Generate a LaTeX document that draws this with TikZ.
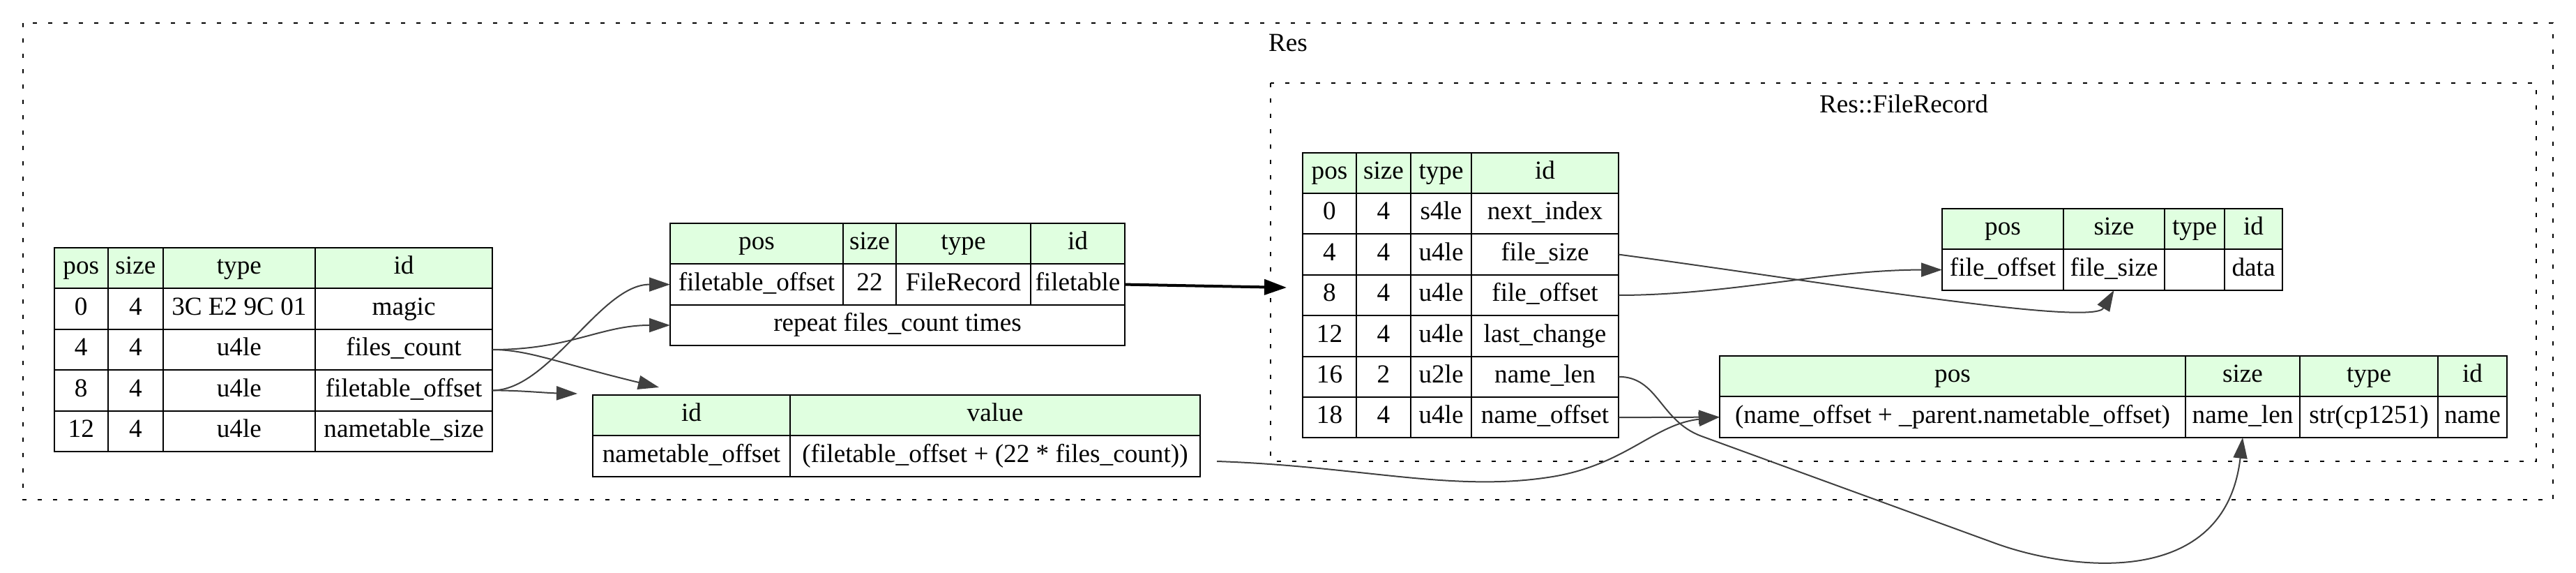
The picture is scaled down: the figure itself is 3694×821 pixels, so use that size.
\documentclass[tikz,border=0pt]{standalone}
\usepackage{fontspec}
\setmainfont{Liberation Serif}
\usepackage{tikz}
\usetikzlibrary{positioning}
\usetikzlibrary{arrows.meta}

\definecolor{hdrgreen}{HTML}{E0FFE0}
\definecolor{edgegray}{HTML}{404040}

\tikzset{
    cellbox/.style={rectangle, draw=black, line width=0.5pt, minimum height=14.6pt, inner sep=0pt, outer sep=0pt, text height=6.4pt, text depth=2pt, font=\fontsize{9.3pt}{11pt}\selectfont},
    headbox/.style={cellbox, fill=hdrgreen},
    cluster/.style={draw=black, line width=0.5pt, dash pattern=on 1.5pt off 4pt},
    link/.style={draw=edgegray, line width=0.5pt, -{Triangle[length=7.5pt, width=5pt]}},
    biglink/.style={draw=black, line width=1pt, -{Triangle[length=8pt, width=5.5pt]}},
}

\begin{document}
\begin{tikzpicture}[x=0.25pt, y=-0.25pt]
    \useasboundingbox (0,0) rectangle (3694,821);

    % clusters
    \draw [cluster] (33,33) rectangle (3661,716);
    \draw [cluster] (1822,119.5) rectangle (3637,661);
    \node [font=\fontsize{9.3pt}{11pt}\selectfont] (res-label) at (1847,62) {Res};
    \node [font=\fontsize{9.3pt}{11pt}\selectfont] (rec-label) at (2730,149) {Res::FileRecord};

    % Res seq
    \node [headbox, minimum width=19.4pt, anchor=north west] (res-pos) at (77.5,355) {pos};
    \node [headbox, minimum width=19.65pt, right=0pt of res-pos] (res-size) {size};
    \node [headbox, minimum width=54.6pt, right=0pt of res-size] (res-type) {type};
    \node [headbox, minimum width=63.5pt, right=0pt of res-type] (res-id) {id};
    \node [cellbox, minimum width=19.4pt, below=0pt of res-pos] (magic-pos) {0};
    \node [cellbox, minimum width=19.65pt, right=0pt of magic-pos] (magic-size) {4};
    \node [cellbox, minimum width=54.6pt, right=0pt of magic-size] (magic-type) {3C E2 9C 01};
    \node [cellbox, minimum width=63.5pt, right=0pt of magic-type] (magic-id) {magic};
    \node [cellbox, minimum width=19.4pt, below=0pt of magic-pos] (fcount-pos) {4};
    \node [cellbox, minimum width=19.65pt, right=0pt of fcount-pos] (fcount-size) {4};
    \node [cellbox, minimum width=54.6pt, right=0pt of fcount-size] (fcount-type) {u4le};
    \node [cellbox, minimum width=63.5pt, right=0pt of fcount-type] (fcount-id) {files\_count};
    \node [cellbox, minimum width=19.4pt, below=0pt of fcount-pos] (ftoff-pos) {8};
    \node [cellbox, minimum width=19.65pt, right=0pt of ftoff-pos] (ftoff-size) {4};
    \node [cellbox, minimum width=54.6pt, right=0pt of ftoff-size] (ftoff-type) {u4le};
    \node [cellbox, minimum width=63.5pt, right=0pt of ftoff-type] (ftoff-id) {filetable\_offset};
    \node [cellbox, minimum width=19.4pt, below=0pt of ftoff-pos] (ntsize-pos) {12};
    \node [cellbox, minimum width=19.65pt, right=0pt of ntsize-pos] (ntsize-size) {4};
    \node [cellbox, minimum width=54.6pt, right=0pt of ntsize-size] (ntsize-type) {u4le};
    \node [cellbox, minimum width=63.5pt, right=0pt of ntsize-type] (ntsize-id) {nametable\_size};

    % filetable
    \node [headbox, minimum width=62pt, anchor=north west] (fth-pos) at (961,320) {pos};
    \node [headbox, minimum width=19pt, right=0pt of fth-pos] (fth-size) {size};
    \node [headbox, minimum width=48.25pt, right=0pt of fth-size] (fth-type) {type};
    \node [headbox, minimum width=33.75pt, right=0pt of fth-type] (fth-id) {id};
    \node [cellbox, minimum width=62pt, below=0pt of fth-pos] (ft-pos) {filetable\_offset};
    \node [cellbox, minimum width=19pt, right=0pt of ft-pos] (ft-size) {22};
    \node [cellbox, minimum width=48.25pt, right=0pt of ft-size] (ft-type) {FileRecord};
    \node [cellbox, minimum width=33.75pt, right=0pt of ft-type] (ft-id) {filetable};
    \node [cellbox, minimum width=163pt, anchor=north west] (ft-repeat) at (ft-pos.south west) {repeat files\_count times};

    % instances
    \node [headbox, minimum width=70.75pt, anchor=north west] (inst-id) at (850,566) {id};
    \node [headbox, minimum width=147pt, right=0pt of inst-id] (inst-value) {value};
    \node [cellbox, minimum width=70.75pt, below=0pt of inst-id] (ntoff-id) {nametable\_offset};
    \node [cellbox, minimum width=147pt, right=0pt of ntoff-id] (ntoff-value) {(filetable\_offset + (22 * files\_count))};

    % Res::FileRecord seq
    \node [headbox, minimum width=19.25pt, anchor=north west] (rec-pos) at (1868,218.6) {pos};
    \node [headbox, minimum width=19.5pt, right=0pt of rec-pos] (rec-size) {size};
    \node [headbox, minimum width=21.75pt, right=0pt of rec-size] (rec-type) {type};
    \node [headbox, minimum width=52.75pt, right=0pt of rec-type] (rec-id) {id};
    \node [cellbox, minimum width=19.25pt, below=0pt of rec-pos] (nidx-pos) {0};
    \node [cellbox, minimum width=19.5pt, right=0pt of nidx-pos] (nidx-size) {4};
    \node [cellbox, minimum width=21.75pt, right=0pt of nidx-size] (nidx-type) {s4le};
    \node [cellbox, minimum width=52.75pt, right=0pt of nidx-type] (nidx-id) {next\_index};
    \node [cellbox, minimum width=19.25pt, below=0pt of nidx-pos] (fsize-pos) {4};
    \node [cellbox, minimum width=19.5pt, right=0pt of fsize-pos] (fsize-size) {4};
    \node [cellbox, minimum width=21.75pt, right=0pt of fsize-size] (fsize-type) {u4le};
    \node [cellbox, minimum width=52.75pt, right=0pt of fsize-type] (fsize-id) {file\_size};
    \node [cellbox, minimum width=19.25pt, below=0pt of fsize-pos] (foff-pos) {8};
    \node [cellbox, minimum width=19.5pt, right=0pt of foff-pos] (foff-size) {4};
    \node [cellbox, minimum width=21.75pt, right=0pt of foff-size] (foff-type) {u4le};
    \node [cellbox, minimum width=52.75pt, right=0pt of foff-type] (foff-id) {file\_offset};
    \node [cellbox, minimum width=19.25pt, below=0pt of foff-pos] (lchange-pos) {12};
    \node [cellbox, minimum width=19.5pt, right=0pt of lchange-pos] (lchange-size) {4};
    \node [cellbox, minimum width=21.75pt, right=0pt of lchange-size] (lchange-type) {u4le};
    \node [cellbox, minimum width=52.75pt, right=0pt of lchange-type] (lchange-id) {last\_change};
    \node [cellbox, minimum width=19.25pt, below=0pt of lchange-pos] (nlen-pos) {16};
    \node [cellbox, minimum width=19.5pt, right=0pt of nlen-pos] (nlen-size) {2};
    \node [cellbox, minimum width=21.75pt, right=0pt of nlen-size] (nlen-type) {u2le};
    \node [cellbox, minimum width=52.75pt, right=0pt of nlen-type] (nlen-id) {name\_len};
    \node [cellbox, minimum width=19.25pt, below=0pt of nlen-pos] (noff-pos) {18};
    \node [cellbox, minimum width=19.5pt, right=0pt of noff-pos] (noff-size) {4};
    \node [cellbox, minimum width=21.75pt, right=0pt of noff-size] (noff-type) {u4le};
    \node [cellbox, minimum width=52.75pt, right=0pt of noff-type] (noff-id) {name\_offset};

    % data instance
    \node [headbox, minimum width=43.5pt, anchor=north west] (data-pos) at (2785,299) {pos};
    \node [headbox, minimum width=36.25pt, right=0pt of data-pos] (data-size) {size};
    \node [headbox, minimum width=21.5pt, right=0pt of data-size] (data-type) {type};
    \node [headbox, minimum width=20.75pt, right=0pt of data-type] (data-id) {id};
    \node [cellbox, minimum width=43.5pt, below=0pt of data-pos] (body-pos) {file\_offset};
    \node [cellbox, minimum width=36.25pt, right=0pt of body-pos] (body-size) {file\_size};
    \node [cellbox, minimum width=21.5pt, right=0pt of body-size] (body-type) {};
    \node [cellbox, minimum width=20.75pt, right=0pt of body-type] (body-id) {data};

    % name instance
    \node [headbox, minimum width=167pt, anchor=north west] (name-pos) at (2466,510) {pos};
    \node [headbox, minimum width=41pt, right=0pt of name-pos] (name-size) {size};
    \node [headbox, minimum width=49.5pt, right=0pt of name-size] (name-type) {type};
    \node [headbox, minimum width=24.75pt, right=0pt of name-type] (name-id) {id};
    \node [cellbox, minimum width=167pt, below=0pt of name-pos] (nm-pos) {(name\_offset + \_parent.nametable\_offset)};
    \node [cellbox, minimum width=41pt, right=0pt of nm-pos] (nm-size) {name\_len};
    \node [cellbox, minimum width=49.5pt, right=0pt of nm-size] (nm-type) {str(cp1251)};
    \node [cellbox, minimum width=24.75pt, right=0pt of nm-type] (nm-id) {name};

    \coordinate (inst-top) at (945,555);
    \coordinate (inst-left) at (828,564);
    \coordinate (inst-out) at (1745,661);
    \coordinate (rec-in) at (1845,412);

    \draw [link] (fcount-id.east) .. controls +(112,0) and +(-100,0) .. (ft-repeat.west);
    \draw [link] (fcount-id.east) .. controls +(52,0) and +(-145,-35) .. (inst-top);
    \draw [link] (ftoff-id.east) .. controls +(82,0) and +(-100,0) .. (ft-pos.west);
    \draw [link] (ftoff-id.east) .. controls +(42,0) and +(-48,-1) .. (inst-left);
    \draw [biglink] (ft-id.east) -- (rec-in);
    \draw [link] (fsize-id.east) .. controls +(277,37) and +(-31,53) .. (body-size.south);
    \draw [link] (foff-id.east) .. controls +(157,0) and +(-165,0) .. (body-pos.west);
    \draw [link] (noff-id.east) -- (nm-pos.west);
    \draw [link] (inst-out) .. controls +(205,7) and +(-140,21) .. (2220,684) .. controls +(110,-16) and +(-95,10) .. (nm-pos.west);
    \draw [link] (nlen-id.east) .. controls +(57,0) and +(-60,-22) .. (2440,625) -- (2860,778) .. controls +(100,37) and +(-26,223) .. (nm-size.south);
\end{tikzpicture}
\end{document}
